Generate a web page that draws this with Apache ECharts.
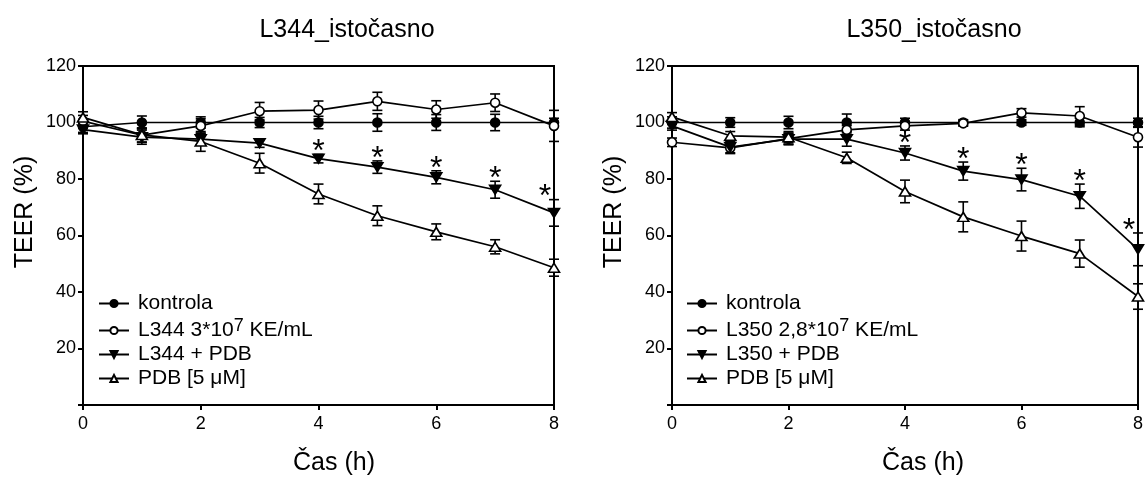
<!DOCTYPE html>
<html>
<head>
<meta charset="utf-8">
<title>TEER</title>
<script src="https://cdn.jsdelivr.net/npm/echarts@6/dist/echarts.min.js"></script>
<style>
  html, body { margin: 0; padding: 0; background: #fff; }
  #chart { width: 1146px; height: 477px; }
</style>
</head>
<body>
<div id="chart"></div>
<script>
// Time points (h)
const hours = [0, 1, 2, 3, 4, 5, 6, 7, 8];
const xTicks = [0, 2, 4, 6, 8];
const yTicks = [0, 20, 40, 60, 80, 100, 120];

// L344 panel: mean TEER (%) and error
const l344Kontrola    = [98.5, 100, 100, 100, 100, 100, 100, 100, 100];
const l344KontrolaErr = [2, 2.3, 2, 1.8, 2.2, 3.1, 2.8, 2.9, 1.5];
const l344Bakt        = [100.5, 95.5, 98.8, 104, 104.4, 107.5, 104.6, 107, 98.8];
const l344BaktErr     = [2, 2.5, 2.5, 3.1, 3.2, 3.2, 3.1, 3.1, 5.5];
const l344Pdb         = [97.5, 94.8, 94.1, 92.7, 87.2, 84.2, 80.6, 76.2, 68];
const l344PdbErr      = [1.5, 2.5, 2, 1.5, 1.5, 2.2, 2.3, 3, 4.7];
const l344PdbOnly     = [101.8, 95.6, 93.3, 85.6, 74.7, 67, 61.3, 56, 48.6];
const l344PdbOnlyErr  = [2, 2.5, 3.5, 3.5, 3.5, 3.5, 2.8, 2.5, 3];
const l344Sig         = [4, 5, 6, 7, 8];   // indices marked with *

// L350 panel: mean TEER (%) and error
const l350Kontrola    = [100, 100, 100, 100, 100, 100, 100, 100, 100];
const l350KontrolaErr = [2, 1.7, 2.2, 3, 1.5, 1, 1, 1.5, 1.5];
const l350Bakt        = [93, 91, 94.3, 97.4, 98.8, 99.7, 103.4, 102.3, 94.8];
const l350BaktErr     = [1.5, 2, 2, 1.5, 1.5, 1, 1.5, 3.3, 3.5];
const l350Pdb         = [98.8, 91.3, 94.1, 94.1, 89.2, 82.8, 79.8, 73.9, 55.1];
const l350PdbErr      = [1.5, 2, 2, 2.5, 2.5, 3.2, 4, 4.3, 5.8];
const l350PdbOnly     = [102, 95.3, 94.8, 87.5, 75.6, 66.6, 59.8, 53.6, 38.4];
const l350PdbOnlyErr  = [1.5, 1.5, 2, 2, 4, 5.3, 5.3, 4.8, 4.5];
const l350Sig         = [4, 5, 6, 7, 8];

// Texts
const titles = ['L344_istočasno', 'L350_istočasno'];
const xName = 'Čas (h)';
const yName = 'TEER (%)';
const namesL344 = ['kontrola', 'L344 3*10^7 KE/mL', 'L344 + PDB', 'PDB [5 μM]'];
const namesL350 = ['kontrola', 'L350 2,8*10^7 KE/mL', 'L350 + PDB', 'PDB [5 μM]'];

const FONT = '"Liberation Sans", Arial, Helvetica, sans-serif';
const BLACK = '#000';

// marker styles per group: filled circle, open circle, filled down-triangle, open triangle
const markers = [
  { symbol: 'circle',   size: 9,       rotate: 0,   fill: BLACK },
  { symbol: 'circle',   size: 9,       rotate: 0,   fill: '#fff' },
  { symbol: 'triangle', size: [11, 9], rotate: 180, fill: BLACK },
  { symbol: 'triangle', size: [11, 9], rotate: 0,   fill: '#fff' }
];

function errRender(params, api) {
  const x = api.value(0), m = api.value(1), e = api.value(2);
  const hi = api.coord([x, m + e]);
  const lo = api.coord([x, m - e]);
  const w = 5;
  const st = { stroke: BLACK, lineWidth: 1.6 };
  return {
    type: 'group',
    children: [
      { type: 'line', shape: { x1: hi[0], y1: hi[1], x2: lo[0], y2: lo[1] }, style: st },
      { type: 'line', shape: { x1: hi[0] - w, y1: hi[1], x2: hi[0] + w, y2: hi[1] }, style: st },
      { type: 'line', shape: { x1: lo[0] - w, y1: lo[1], x2: lo[0] + w, y2: lo[1] }, style: st }
    ]
  };
}

function starRender(params, api) {
  const x = api.value(0);
  const p = api.coord([x, api.value(1)]);
  const atEnd = x === hours[hours.length - 1];
  return {
    type: 'text',
    x: p[0] + (atEnd ? -9 : 0),
    y: p[1] - 2,
    style: { text: '*', fontSize: 32, fontFamily: FONT, fill: BLACK, align: 'center', verticalAlign: 'middle' }
  };
}

function panelSeries(idx, names, means, errs, sig) {
  const out = [];
  means.forEach((m, k) => {
    out.push({
      type: 'custom',
      xAxisIndex: idx, yAxisIndex: idx,
      renderItem: errRender,
      encode: { x: 0, y: 1 },
      clip: false,
      silent: true,
      z: 1,
      data: hours.map((h, i) => [h, m[i], errs[k][i]])
    });
  });
  means.forEach((m, k) => {
    const mk = markers[k];
    out.push({
      type: 'line',
      name: names[k],
      xAxisIndex: idx, yAxisIndex: idx,
      data: hours.map((h, i) => [h, m[i]]),
      symbol: mk.symbol,
      symbolSize: mk.size,
      symbolRotate: mk.rotate,
      showAllSymbol: true,
      clip: false,
      silent: true,
      z: 3,
      lineStyle: { color: BLACK, width: 1.7 },
      itemStyle: { color: mk.fill, borderColor: BLACK, borderWidth: 1.6, opacity: 1 },
      emphasis: { disabled: true }
    });
  });
  // significance marks above the L + PDB series
  out.push({
    type: 'custom',
    xAxisIndex: idx, yAxisIndex: idx,
    renderItem: starRender,
    encode: { x: 0, y: 1 },
    clip: false,
    silent: true,
    z: 4,
    data: sig.map(i => [hours[i], means[2][i] + errs[2][i]])
  });
  return out;
}

function legendFormatter(name) {
  const parts = name.split('^');
  if (parts.length === 2) {
    const exp = parts[1].charAt(0);
    return '{n|' + parts[0] + '}{s|' + exp + '}{n|' + parts[1].slice(1) + '}';
  }
  return '{n|' + name + '}';
}

function legendFor(names, left) {
  return {
    orient: 'vertical',
    left: left,
    top: 293,
    padding: 0,
    itemGap: 3,
    itemWidth: 30,
    itemHeight: 9,
    selectedMode: false,
    data: names,
    formatter: legendFormatter,
    textStyle: {
      color: BLACK,
      fontFamily: FONT,
      fontSize: 21,
      padding: [0, 0, 0, 4],
      rich: {
        n: { fontSize: 21, fontFamily: FONT, color: BLACK, lineHeight: 21 },
        s: { fontSize: 18, fontFamily: FONT, color: BLACK, lineHeight: 12, height: 12, verticalAlign: 'top' }
      }
    }
  };
}

function xAxisFor(idx) {
  return {
    type: 'value', gridIndex: idx,
    min: xTicks[0], max: xTicks[xTicks.length - 1], interval: xTicks[1] - xTicks[0],
    axisLine: { lineStyle: { color: BLACK, width: 2 } },
    axisTick: { length: 5, lineStyle: { color: BLACK, width: 2 } },
    axisLabel: { color: BLACK, fontFamily: FONT, fontSize: 18, margin: 10 },
    splitLine: { show: false }
  };
}

function yAxisFor(idx) {
  return {
    type: 'value', gridIndex: idx,
    min: yTicks[0], max: yTicks[yTicks.length - 1], interval: yTicks[1] - yTicks[0],
    axisLine: { lineStyle: { color: BLACK, width: 2 } },
    axisTick: { length: 5, lineStyle: { color: BLACK, width: 2 } },
    axisLabel: { color: BLACK, fontFamily: FONT, fontSize: 18, margin: 7,
                 formatter: v => (v === 0 ? '' : String(v)) },
    splitLine: { show: false }
  };
}

function textEl(text, x, y, rot) {
  return {
    type: 'text', x: x, y: y, rotation: rot || 0, silent: true,
    style: { text: text, fontSize: 25, fontFamily: FONT, fill: BLACK, align: 'center', verticalAlign: 'middle' }
  };
}

const chart = echarts.init(document.getElementById('chart'), null, { renderer: 'canvas' });
chart.setOption({
  animation: false,
  backgroundColor: '#fff',
  grid: [
    { left: 83, right: 592, top: 66, bottom: 72, show: true, borderColor: BLACK, borderWidth: 2, backgroundColor: 'transparent' },
    { left: 672, right: 4, top: 66, bottom: 72, show: true, borderColor: BLACK, borderWidth: 2, backgroundColor: 'transparent' }
  ],
  xAxis: [xAxisFor(0), xAxisFor(1)],
  yAxis: [yAxisFor(0), yAxisFor(1)],
  legend: [legendFor(namesL344, 98), legendFor(namesL350, 686)],
  graphic: [
    textEl(titles[0], 347, 30),
    textEl(titles[1], 934, 30),
    textEl(xName, 334, 463),
    textEl(xName, 923, 463),
    textEl(yName, 25, 212, Math.PI / 2),
    textEl(yName, 614, 212, Math.PI / 2)
  ],
  series: [
    ...panelSeries(0, namesL344,
      [l344Kontrola, l344Bakt, l344Pdb, l344PdbOnly],
      [l344KontrolaErr, l344BaktErr, l344PdbErr, l344PdbOnlyErr], l344Sig),
    ...panelSeries(1, namesL350,
      [l350Kontrola, l350Bakt, l350Pdb, l350PdbOnly],
      [l350KontrolaErr, l350BaktErr, l350PdbErr, l350PdbOnlyErr], l350Sig)
  ]
});
</script>
</body>
</html>
